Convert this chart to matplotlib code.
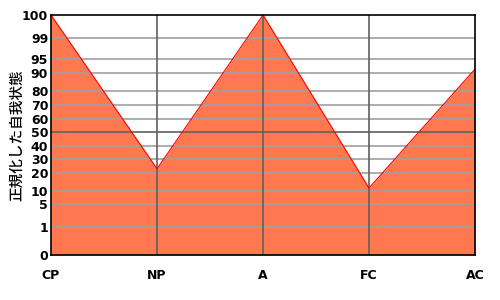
import numpy as np
import matplotlib.pyplot as plt

# ego-state scores (normalised, 0-100)
states = ['CP', 'NP', 'A', 'FC', 'AC']
scores = [100, 23, 100, 11.4, 91.4]

yticks = [0, 1, 5, 10, 20, 30, 40, 50, 60, 70, 80, 90, 95, 99, 100]

# axis warping (tick value -> height on axis)
warp_pos = [0, 28.5, 51, 64.5, 82, 96, 109, 123, 136, 150, 164, 182, 196, 217, 240]


def fwd(v):
    return np.interp(v, yticks, warp_pos)


def inv(p):
    return np.interp(p, warp_pos, yticks)


plt.rcParams['font.family'] = ['DejaVu Sans', 'Noto Sans CJK JP']

fig = plt.figure(figsize=(5, 3), dpi=100)
ax = fig.add_axes([51/500, 45/300, 424/500, 240/300])
ax.set_yscale('function', functions=(fwd, inv))

x = np.arange(len(states))
ax.fill_between(x, 0, scores, color='#ff7850', lw=0, zorder=1)
ax.plot(x, scores, color='#ff0000', lw=0.8, zorder=4)

for v in yticks[1:-1]:
    c = '#606060' if v == 50 else '#a0a0a0'
    ax.axhline(v, color=c, lw=1.2, zorder=3)
for xi in x[1:-1]:
    ax.axvline(xi, color='#606060', lw=1.2, zorder=3)

ax.set_xlim(0, len(states) - 1)
ax.set_ylim(0, 100)
ax.set_xticks(x)
ax.set_xticklabels(states, fontsize=9, fontweight='bold')
ax.set_yticks(yticks)
ax.set_yticklabels([str(v) for v in yticks], fontsize=9, fontweight='bold')
ax.minorticks_off()
ax.tick_params(axis='x', length=0, pad=10)
ax.tick_params(axis='y', length=0, pad=2)
for s in ax.spines.values():
    s.set_color('black')
    s.set_linewidth(1.2)
    s.set_zorder(5)

ax.set_ylabel('正規化した自我状態', family=['Noto Sans CJK JP', 'DejaVu Sans'],
              fontsize=10.5, fontweight='medium')
ax.yaxis.set_label_coords(-0.064, 0.5)

plt.savefig('out.png', facecolor='w')
